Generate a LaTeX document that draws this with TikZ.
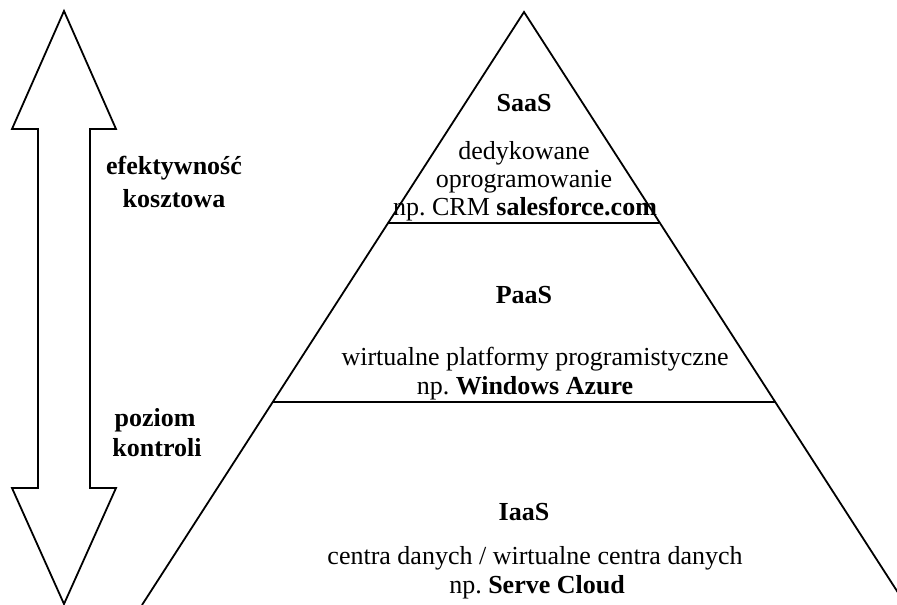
\documentclass[tikz,border=0pt]{standalone}
\usepackage{fontspec}
\setmainfont{Liberation Serif}
\frenchspacing
\begin{document}
\begin{tikzpicture}[x=1pt,y=-1pt,
  outline/.style={draw=black,line width=1.8pt,line join=miter},
  lbl/.style={anchor=base,inner sep=0pt,font=\fontsize{26}{28}\selectfont},
  hd/.style={lbl,font=\fontsize{26}{28}\selectfont\bfseries}]
\useasboundingbox (0,0) rectangle (897,605);

% double-headed block arrow on the left
\draw[outline] (64,11) -- (116,129) -- (90,129) -- (90,488) -- (116,488)
  -- (64,604) -- (12,488) -- (38,488) -- (38,129) -- (12,129) -- cycle;

% pyramid outline and layer separators
\coordinate (apex) at (524,12);
\coordinate (bl) at (142,605);
\coordinate (br) at (906,605);
\coordinate (s1l) at (388,223);
\coordinate (s1r) at (659,223);
\coordinate (s2l) at (273,402);
\coordinate (s2r) at (775,402);
\begin{scope}
  \clip (0,0) rectangle (897,605);
  \draw[outline] (bl) -- (apex) -- (br);
\end{scope}
\draw[outline] (s1l) -- (s1r);
\draw[outline] (s2l) -- (s2r);

% arrow labels
\node[hd] (eff1) at (174,174) {efektywność};
\node[hd] (eff2) at (174,207) {kosztowa};
\node[hd] (ctl1) at (155,426) {poziom};
\node[hd] (ctl2) at (157,456) {kontroli};

% SaaS layer
\node[hd]  (saas)  at (524,111) {SaaS};
\node[lbl] (saas1) at (524,159) {dedykowane};
\node[lbl] (saas2) at (524,187) {oprogramowanie};
\node[lbl] (saas3) at (525,215) {np. CRM \textbf{salesforce.com}};

% PaaS layer
\node[hd]  (paas)  at (524,303) {PaaS};
\node[lbl] (paas1) at (535,365) {wirtualne platformy programistyczne};
\node[lbl] (paas2) at (525,394) {np. \textbf{Windows Azure}};

% IaaS layer
\node[hd]  (iaas)  at (524,520) {IaaS};
\node[lbl] (iaas1) at (535,564) {centra danych / wirtualne centra danych};
\node[lbl] (iaas2) at (537,593) {np. \textbf{Serve Cloud}};
\end{tikzpicture}
\end{document}
